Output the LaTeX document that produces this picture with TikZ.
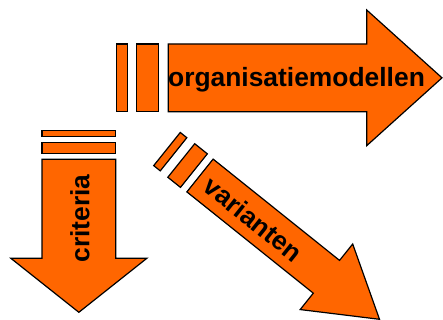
\documentclass[tikz,border=0pt]{standalone}
\usepackage{fontspec}
\setmainfont{Liberation Sans}
\begin{document}
\begin{tikzpicture}[x=1pt,y=1pt,
  block/.style={fill=arrowfill, draw=black, line width=1.2pt, line join=miter},
  lbl/.style={inner sep=0pt, font=\fontsize{26.4}{30}\selectfont\bfseries, text=black}]
\definecolor{arrowfill}{HTML}{FF6600}
\useasboundingbox (0,0) rectangle (443,320);

% horizontal arrow with its two leading bars
\path[block] (116.7,208.3) rectangle (127.3,276);
\path[block] (136.7,208.3) rectangle (158.7,276);
\path[block] (168.3,208.3) -- (366.7,208.3) -- (366.7,174.3) -- (442,242.15)
  -- (366.7,310) -- (366.7,276) -- (168.3,276) -- cycle;
\node[lbl, anchor=base] (om) at (296.5,233.3) {organisatiemodellen};

% downward arrow with its two leading bars
\path[block] (42,183.3) rectangle (115.7,189.3);
\path[block] (42,166.3) rectangle (115.7,177.7);
\path[block] (42,160.7) -- (115.7,160.7) -- (115.7,61.7) -- (146.85,61.7)
  -- (78.85,7.7) -- (10.85,61.7) -- (42,61.7) -- cycle;
\node[lbl, anchor=base, rotate=90] (cr) at (89.3,101.65) {criteria};

% diagonal arrow, drawn along its own axis
\begin{scope}[shift={(200,144.5)}, rotate=-38.7]
  \path[block] (-42.3,-21.25) rectangle (-33.9,21.25);
  \path[block] (-24,-21.5) rectangle (-7.8,21.5);
  \path[block] (0,-21) -- (162,-21) -- (162,-42) -- (230,0) -- (162,42)
    -- (162,21) -- (0,21) -- cycle;
  \node[lbl, anchor=base, rotate=-38.7] (va) at (69,-10) {varianten};
\end{scope}
\end{tikzpicture}
\end{document}
